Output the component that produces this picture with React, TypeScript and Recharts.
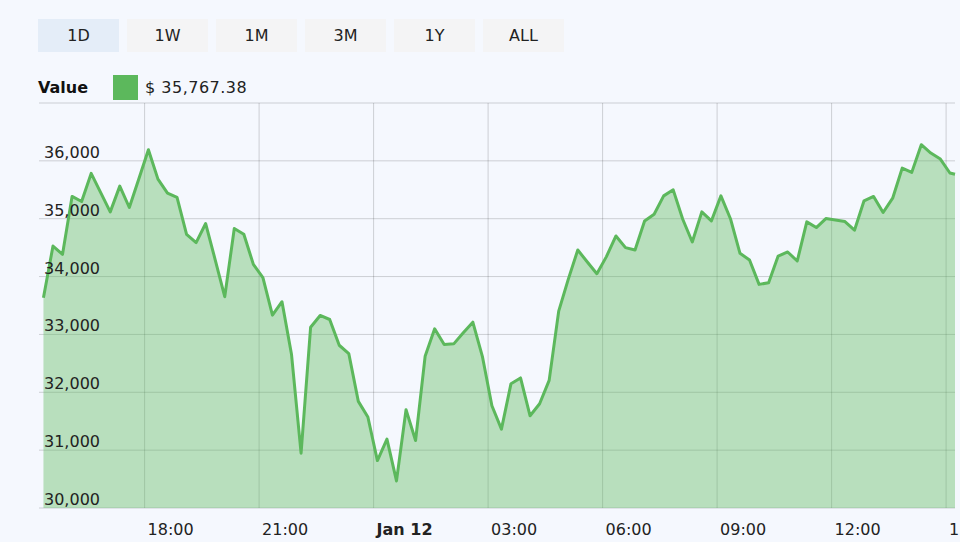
import React from 'react';
import { AreaChart, Area, XAxis, YAxis, CartesianGrid } from 'recharts';

document.body.style.margin = '0';
document.body.style.background = '#f5f8fe';

const ranges = ['1D', '1W', '1M', '3M', '1Y', 'ALL'];
const activeRange = '1D';
const currentValue = 35767.38;

// minutes since Jan 11 00:00, one sample every 15 minutes
const firstMinute = 921;
const stepMinutes = 15;
const windowStart = 914;
const nowMinute = 2354;

const values = [
  33634, 34528, 34385, 35385, 35298, 35783, 35450, 35118, 35563, 35194,
  35690, 36193, 35684, 35442, 35367, 34731, 34588, 34917, 34290, 33652,
  34830, 34731, 34211, 33981, 33333, 33565, 32652, 30948, 33125, 33328,
  33258, 32813, 32669, 31843, 31572, 30820, 31190, 30468, 31698, 31167,
  32622, 33097, 32825, 32837, 33028, 33212, 32622, 31768, 31364, 32149,
  32248, 31594, 31802, 32206, 33402, 33951, 34460, 34251, 34050, 34345,
  34702, 34501, 34460, 34962, 35078, 35395, 35499, 34991, 34598, 35118,
  34962, 35395, 35000, 34402, 34286, 33865, 33894, 34355, 34425, 34269,
  34945, 34847, 35003, 34979, 34951, 34801, 35309, 35385, 35107, 35355,
  35875, 35801, 36279, 36135, 36031, 35790,
];

const timeTicks = [1080, 1260, 1440, 1620, 1800, 1980, 2160, 2340];
const timeLabels = ['18:00', '21:00', 'Jan 12', '03:00', '06:00', '09:00', '12:00', '15:00'];
const valueTicks = [30000, 31000, 32000, 33000, 34000, 35000, 36000, 37000];

const data = [
  ...values.map((v, i) => ({ t: firstMinute + i * stepMinutes, value: v })),
  { t: nowMinute, value: currentValue },
];

const FONT = '"DejaVu Sans", Verdana, sans-serif';
const GREEN = '#5cb85c';

const TimeTick = (props: any) => {
  const idx = timeTicks.indexOf(props.payload.value);
  const label = timeLabels[idx];
  return (
    <text
      x={props.x + 3}
      y={535}
      fontFamily={FONT}
      fontSize={16}
      fontWeight={label === 'Jan 12' ? 'bold' : 'normal'}
      fill="#222"
      textAnchor="start"
    >
      {label}
    </text>
  );
};

const ValueTick = (props: any) => {
  if (props.payload.value === 37000) return <g />;
  return (
    <text x={44} y={props.y - 3} fontFamily={FONT} fontSize={16} fill="#222" textAnchor="start">
      {props.payload.value.toLocaleString('en-US')}
    </text>
  );
};

export default function App() {
  return (
    <div style={{ position: 'relative', width: 960, height: 542, fontFamily: FONT }}>
      <div style={{ position: 'absolute', left: 38, top: 19, display: 'flex', gap: 8 }}>
        {ranges.map((r) => (
          <div
            key={r}
            style={{
              width: 81,
              height: 33,
              lineHeight: '34px',
              textAlign: 'center',
              fontSize: 16,
              color: '#222',
              background: r === activeRange ? '#e4edf8' : '#f4f4f5',
            }}
          >
            {r}
          </div>
        ))}
      </div>
      <div style={{ position: 'absolute', left: 38, top: 75, height: 25, display: 'flex', alignItems: 'center' }}>
        <span style={{ fontWeight: 'bold', fontSize: 16, color: '#111', width: 75 }}>Value</span>
        <span style={{ width: 25, height: 25, background: GREEN, display: 'inline-block' }} />
        <span style={{ fontSize: 16, color: '#222', marginLeft: 7, letterSpacing: 0.5 }}>
          $ {currentValue.toLocaleString('en-US', { minimumFractionDigits: 2 })}
        </span>
      </div>
      <div style={{ position: 'absolute', left: 0, top: 0 }}>
        <AreaChart width={960} height={542} data={data} margin={{ top: 103, right: 5, bottom: 0, left: 0 }}>
          <CartesianGrid stroke="#000" strokeOpacity={0.17} syncWithTicks />
          <XAxis
            dataKey="t"
            type="number"
            domain={[windowStart, nowMinute]}
            ticks={timeTicks}
            height={34}
            axisLine={false}
            tickLine={false}
            tick={<TimeTick />}
            interval={0}
          />
          <YAxis
            type="number"
            domain={[30000, 37000]}
            ticks={valueTicks}
            width={39}
            axisLine={false}
            tickLine={false}
            tick={<ValueTick />}
            interval={0}
          />
          <Area
            type="linear"
            dataKey="value"
            stroke={GREEN}
            strokeWidth={3}
            strokeLinejoin="round"
            fill={GREEN}
            fillOpacity={0.4}
            dot={false}
            activeDot={false}
            isAnimationActive={false}
          />
        </AreaChart>
      </div>
    </div>
  );
}
